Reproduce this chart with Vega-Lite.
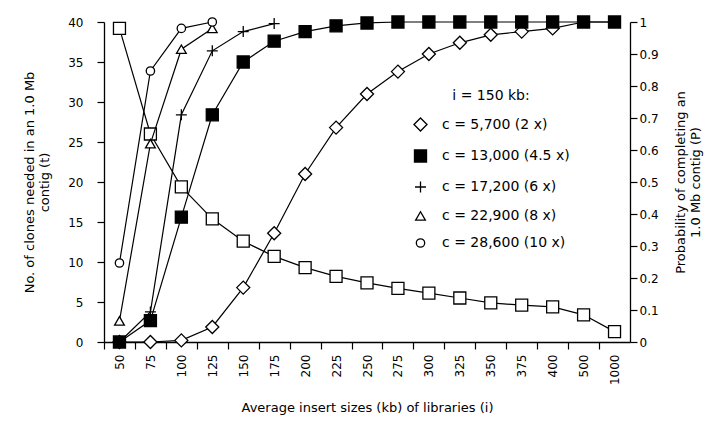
{
  "$schema": "https://vega.github.io/schema/vega-lite/v6.json",
  "width": 526,
  "height": 320,
  "autosize": "none",
  "padding": {"left": 104, "top": 22, "right": 91, "bottom": 83},
  "background": "white",
  "config": {
    "view": {"stroke": null},
    "font": "DejaVu Sans",
    "axis": {
      "domainColor": "black",
      "tickColor": "black",
      "labelColor": "black",
      "titleColor": "black",
      "grid": false,
      "labelFont": "DejaVu Sans",
      "titleFont": "DejaVu Sans",
      "labelFontSize": 12,
      "titleFontSize": 13,
      "titleFontWeight": "normal",
      "tickSize": 7,
      "domainWidth": 1.3,
      "tickWidth": 1.2
    },
    "legend": {
      "labelFont": "DejaVu Sans",
      "titleFont": "DejaVu Sans",
      "labelFontSize": 14,
      "titleFontSize": 14,
      "titleFontWeight": "normal",
      "labelColor": "black",
      "titleColor": "black"
    }
  },
  "datasets": {
    "tdata": [
      {"i": "50", "t": 39.2}, {"i": "75", "t": 26}, {"i": "100", "t": 19.4},
      {"i": "125", "t": 15.4}, {"i": "150", "t": 12.6}, {"i": "175", "t": 10.7},
      {"i": "200", "t": 9.3}, {"i": "225", "t": 8.2}, {"i": "250", "t": 7.4},
      {"i": "275", "t": 6.7}, {"i": "300", "t": 6.1}, {"i": "325", "t": 5.5},
      {"i": "350", "t": 4.9}, {"i": "375", "t": 4.6}, {"i": "400", "t": 4.4},
      {"i": "500", "t": 3.4}, {"i": "1000", "t": 1.3}
    ],
    "pdata": [
      {"c": "c = 5,700 (2 x)", "i": "50", "p": 0},
      {"c": "c = 5,700 (2 x)", "i": "75", "p": 0},
      {"c": "c = 5,700 (2 x)", "i": "100", "p": 0.005},
      {"c": "c = 5,700 (2 x)", "i": "125", "p": 0.047},
      {"c": "c = 5,700 (2 x)", "i": "150", "p": 0.17},
      {"c": "c = 5,700 (2 x)", "i": "175", "p": 0.34},
      {"c": "c = 5,700 (2 x)", "i": "200", "p": 0.525},
      {"c": "c = 5,700 (2 x)", "i": "225", "p": 0.67},
      {"c": "c = 5,700 (2 x)", "i": "250", "p": 0.775},
      {"c": "c = 5,700 (2 x)", "i": "275", "p": 0.845},
      {"c": "c = 5,700 (2 x)", "i": "300", "p": 0.9},
      {"c": "c = 5,700 (2 x)", "i": "325", "p": 0.935},
      {"c": "c = 5,700 (2 x)", "i": "350", "p": 0.96},
      {"c": "c = 5,700 (2 x)", "i": "375", "p": 0.97},
      {"c": "c = 5,700 (2 x)", "i": "400", "p": 0.98},
      {"c": "c = 5,700 (2 x)", "i": "500", "p": 1.0},
      {"c": "c = 5,700 (2 x)", "i": "1000", "p": 1.0},
      {"c": "c = 13,000 (4.5 x)", "i": "50", "p": 0},
      {"c": "c = 13,000 (4.5 x)", "i": "75", "p": 0.067},
      {"c": "c = 13,000 (4.5 x)", "i": "100", "p": 0.39},
      {"c": "c = 13,000 (4.5 x)", "i": "125", "p": 0.71},
      {"c": "c = 13,000 (4.5 x)", "i": "150", "p": 0.875},
      {"c": "c = 13,000 (4.5 x)", "i": "175", "p": 0.94},
      {"c": "c = 13,000 (4.5 x)", "i": "200", "p": 0.97},
      {"c": "c = 13,000 (4.5 x)", "i": "225", "p": 0.988},
      {"c": "c = 13,000 (4.5 x)", "i": "250", "p": 0.997},
      {"c": "c = 13,000 (4.5 x)", "i": "275", "p": 1.0},
      {"c": "c = 13,000 (4.5 x)", "i": "300", "p": 1.0},
      {"c": "c = 13,000 (4.5 x)", "i": "325", "p": 1.0},
      {"c": "c = 13,000 (4.5 x)", "i": "350", "p": 1.0},
      {"c": "c = 13,000 (4.5 x)", "i": "375", "p": 1.0},
      {"c": "c = 13,000 (4.5 x)", "i": "400", "p": 1.0},
      {"c": "c = 13,000 (4.5 x)", "i": "500", "p": 1.0},
      {"c": "c = 13,000 (4.5 x)", "i": "1000", "p": 1.0},
      {"c": "c = 17,200 (6 x)", "i": "50", "p": 0},
      {"c": "c = 17,200 (6 x)", "i": "75", "p": 0.094},
      {"c": "c = 17,200 (6 x)", "i": "100", "p": 0.71},
      {"c": "c = 17,200 (6 x)", "i": "125", "p": 0.91},
      {"c": "c = 17,200 (6 x)", "i": "150", "p": 0.97},
      {"c": "c = 17,200 (6 x)", "i": "175", "p": 0.995},
      {"c": "c = 22,900 (8 x)", "i": "50", "p": 0.066},
      {"c": "c = 22,900 (8 x)", "i": "75", "p": 0.62},
      {"c": "c = 22,900 (8 x)", "i": "100", "p": 0.915},
      {"c": "c = 22,900 (8 x)", "i": "125", "p": 0.98},
      {"c": "c = 28,600 (10 x)", "i": "50", "p": 0.247},
      {"c": "c = 28,600 (10 x)", "i": "75", "p": 0.847},
      {"c": "c = 28,600 (10 x)", "i": "100", "p": 0.98},
      {"c": "c = 28,600 (10 x)", "i": "125", "p": 1.0}
    ]
  },
  "encoding": {
    "x": {
      "field": "i",
      "type": "nominal",
      "scale": {
        "type": "point",
        "padding": 0.5,
        "domain": ["50", "75", "100", "125", "150", "175", "200", "225", "250", "275", "300", "325", "350", "375", "400", "500", "1000"]
      },
      "axis": {
        "title": "Average insert sizes (kb) of libraries (i)",
        "labelAngle": 270,
        "labelPadding": 5,
        "tickOffset": -15.47,
        "labelOffset": 15.47,
        "titlePadding": 17
      }
    }
  },
  "layer": [
    {
      "data": {"name": "tdata"},
      "encoding": {
        "y": {
          "field": "t",
          "type": "quantitative",
          "scale": {"domain": [0, 40], "nice": false},
          "axis": {
            "orient": "left",
            "values": [0, 5, 10, 15, 20, 25, 30, 35, 40],
            "title": ["No. of clones needed in an 1.0 Mb", "contig (t)"],
            "labelPadding": 14,
            "titlePadding": 16
          }
        }
      },
      "layer": [
        {"mark": {"type": "line", "color": "black", "strokeWidth": 1.2}},
        {"mark": {"type": "point", "shape": "square", "filled": true, "fill": "white", "stroke": "black", "strokeWidth": 1.3, "size": 144, "opacity": 1}}
      ]
    },
    {
      "data": {"name": "pdata"},
      "encoding": {
        "y": {
          "field": "p",
          "type": "quantitative",
          "scale": {"domain": [0, 1], "nice": false},
          "axis": {
            "orient": "right",
            "values": [0, 0.1, 0.2, 0.3, 0.4, 0.5, 0.6, 0.7, 0.8, 0.9, 1],
            "format": "~g",
            "title": ["Probability of completing an", "1.0 Mb contig (P)"],
            "titleAngle": 270,
            "labelPadding": 2,
            "titlePadding": 14
          }
        }
      },
      "layer": [
        {
          "mark": {"type": "line", "color": "black", "strokeWidth": 1.2},
          "encoding": {"detail": {"field": "c"}}
        },
        {
          "transform": [{"filter": "!(datum.c == 'c = 5,700 (2 x)' && (datum.i == '500' || datum.i == '1000'))"}],
          "mark": {"type": "point", "filled": true, "stroke": "black", "strokeWidth": 1.3, "opacity": 1},
          "encoding": {
            "shape": {
              "field": "c",
              "type": "nominal",
              "scale": {
                "domain": ["c = 5,700 (2 x)", "c = 13,000 (4.5 x)", "c = 17,200 (6 x)", "c = 22,900 (8 x)", "c = 28,600 (10 x)"],
                "range": ["diamond", "square", "M-1,0H1M0,-1V1", "triangle-up", "circle"]
              },
              "legend": {
                "title": "i = 150 kb:",
                "orient": "none",
                "legendX": 309,
                "legendY": 67,
                "titleAnchor": "middle",
                "titlePadding": 14,
                "rowPadding": 13,
                "labelOffset": 14,
                "symbolStrokeColor": "black",
                "symbolStrokeWidth": 1.3,
                "padding": 0
              }
            },
            "fill": {
              "field": "c",
              "type": "nominal",
              "scale": {
                "domain": ["c = 5,700 (2 x)", "c = 13,000 (4.5 x)", "c = 17,200 (6 x)", "c = 22,900 (8 x)", "c = 28,600 (10 x)"],
                "range": ["white", "black", "white", "white", "white"]
              }
            },
            "size": {
              "field": "c",
              "type": "nominal",
              "scale": {
                "domain": ["c = 5,700 (2 x)", "c = 13,000 (4.5 x)", "c = 17,200 (6 x)", "c = 22,900 (8 x)", "c = 28,600 (10 x)"],
                "range": [170, 70, 170, 150, 144]
              }
            }
          }
        }
      ]
    }
  ],
  "resolve": {"scale": {"y": "independent"}, "axis": {"y": "independent"}}
}
